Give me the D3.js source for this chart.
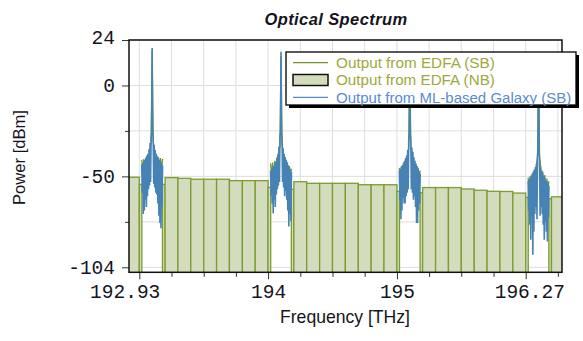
<!DOCTYPE html>
<html><head><meta charset="utf-8">
<script src="https://cdn.jsdelivr.net/npm/d3@7"></script>
<style>body{margin:0;background:#fff}svg{display:block}</style>
</head><body>
<svg id="c" width="583" height="341"></svg>
<script>
// ---------- data ----------
const xTickValues = [192.930,193.208,193.487,193.765,194.043,194.322,194.600,194.878,195.157,195.435,195.713,195.992,196.270,196.548];
const xTickLabels = ["192.93","","","","194","","","","195","","","","196.27",""];
const yTickValues = [24,-1.6,-27.2,-52.8,-78.4,-104];
const yTickLabels = ["24","0","","-50","","-104"];

// EDFA noise bins (NB): start/end frequency [THz], power [dBm]
const nbStart = [192.819,192.930,193.130,193.153,193.264,193.375,193.487,193.598,193.709,193.821,193.932,194.043,194.244,194.266,194.377,194.489,194.600,194.711,194.823,194.934,195.045,195.157,195.357,195.379,195.491,195.602,195.713,195.825,195.936,196.047,196.159,196.270,196.470,196.493];
const nbEnd   = [192.930,192.952,193.153,193.264,193.375,193.487,193.598,193.709,193.821,193.932,194.043,194.066,194.266,194.377,194.489,194.600,194.711,194.823,194.934,195.045,195.157,195.179,195.379,195.491,195.602,195.713,195.825,195.936,196.047,196.159,196.270,196.292,196.493,196.604];
const nbPower = [-53.3,-57.3,-57.3,-53.5,-53.9,-54.4,-54.4,-54.4,-55.2,-55.2,-55.2,-59.0,-60.1,-55.8,-56.7,-56.7,-56.7,-56.7,-57.5,-57.5,-57.5,-61.2,-62.0,-59.1,-59.1,-59.1,-59.9,-60.6,-61.2,-61.3,-62.2,-64.6,-65.4,-64.3];

// signal-band spectra around each channel
const channelCenters = [193.041,194.155,195.268,196.381];
const edfaStep = 0.009;     // THz between EDFA (SB) samples
const galaxyStep = 0.0045;  // THz between ML-based Galaxy (SB) samples
const edfaSB = [
  [-43.5,-50,-43,-55,-42,-48,-40.5,-50,-37,-34,18,-33,-37,-48,-40.5,-52,-42,-55,-42.5,-50,-43],
  [-45.5,-52,-45,-58,-44,-50,-42,-47,-38,-36,15,-35,-38,-48,-42,-52,-45,-56,-47,-53,-48.5],
  [-48,-55,-47,-60,-45,-52,-43,-50,-39,-37,14,-36,-40,-50,-44,-54,-46.5,-56,-48,-54,-49.5],
  [-53.5,-62,-52.5,-68,-51,-60,-49,-56,-46,-42,13,-42,-47,-58,-50,-62,-52,-64,-54,-60,-55.5]
];
const galaxySB = [
  [-46,-62,-45.5,-74,-44.5,-72,-43.5,-66,-42.5,-70,-41,-64,-40,-60,-37.5,-58,-34,-56,-31,-28,19.5,-27,-31.5,-57,-35,-59,-38,-62,-40,-63,-41.5,-68,-42.5,-75,-43.5,-79,-44.5,-82,-45.5,-70,-46.5],
  [-49.5,-64,-49,-68,-48,-73.5,-47,-66,-46,-70,-44.5,-63,-43,-60,-40,-58,-36,-56,-30,-27,17.4,-28,-32,-56,-37,-59,-40,-64,-42,-61,-43.5,-66,-45,-72,-46.5,-81,-48,-74,-49,-78,-50.5],
  [-49.5,-66,-48.5,-77,-47.5,-72,-46.5,-65,-45.5,-68,-44,-68,-42.5,-64,-41,-62,-38,-60,-32,-29,16,-29,-33,-60,-36.5,-62,-39,-66,-42,-64,-44,-70,-45.5,-79,-47,-79,-48.5,-72,-50,-68,-51.5],
  [-55.5,-72,-54.5,-80,-53.5,-88.5,-52.5,-75,-51.5,-97,-50,-84,-49,-74,-47.5,-70,-46,-77,-42,-37,15,-38,-44,-75,-47.5,-70,-49.5,-74,-51,-80,-52.5,-88.5,-53.5,-78,-55,-84,-56,-89.5,-57,-76,-58]
];
const legendLabels = ["Output from EDFA (SB)","Output from EDFA (NB)","Output from ML-based Galaxy (SB)"];

// ---------- layout / style ----------
const plot = {l:129, t:40, r:562, b:272.3};
const C = {grid:"#dedede", nbFill:"#d4dcbe", nbStroke:"#7c9c30", edfa:"#74962a", galaxy:"#4682b4",
           legOlive:"#a0a83c", legBlue:"#5b8bd0", ink:"#141420"};

const svg = d3.select("#c");
svg.append("rect").attr("width",583).attr("height",341).attr("fill","#fff");

const x = d3.scaleLinear().domain([192.93,196.27]).range([139.3,525.7]);
const y = d3.scaleLinear().domain([-104,24]).range([267.3,40]);

svg.append("clipPath").attr("id","clip").append("rect")
  .attr("x",plot.l).attr("y",plot.t).attr("width",plot.r-plot.l).attr("height",plot.b-plot.t);

// grid
const g = svg.append("g");
g.selectAll(".gv").data(xTickValues).join("line")
  .attr("x1",d=>x(d)).attr("x2",d=>x(d)).attr("y1",plot.t).attr("y2",plot.b)
  .attr("stroke",C.grid).attr("stroke-width",1);
g.selectAll(".gh").data(yTickValues).join("line")
  .attr("y1",d=>y(d)).attr("y2",d=>y(d)).attr("x1",plot.l).attr("x2",plot.r)
  .attr("stroke",C.grid).attr("stroke-width",1);

const pg = svg.append("g").attr("clip-path","url(#clip)");

// NB bars
const bins = nbStart.map((s,i)=>({s, e:nbEnd[i], p:nbPower[i]}));
pg.selectAll(".bar").data(bins).join("rect")
  .attr("x",d=>x(d.s)).attr("width",d=>x(d.e)-x(d.s))
  .attr("y",d=>y(d.p)).attr("height",d=>plot.b+3-y(d.p))
  .attr("fill",C.nbFill).attr("stroke",C.nbStroke).attr("stroke-width",1.3);

// SB spectra
const line = d3.line().x(d=>x(d[0])).y(d=>y(d[1]));
edfaSB.forEach((vals,c)=>{
  const pts = vals.map((v,i)=>[channelCenters[c]+(i-(vals.length-1)/2)*edfaStep, v]);
  pg.append("path").attr("d",line(pts)).attr("fill","none").attr("stroke",C.edfa).attr("stroke-width",1.3);
});
galaxySB.forEach((vals,c)=>{
  const pts = vals.map((v,i)=>[channelCenters[c]+(i-(vals.length-1)/2)*galaxyStep, v]);
  pg.append("path").attr("d",line(pts)).attr("fill","none").attr("stroke",C.galaxy).attr("stroke-width",1.6);
});

// axes
const tickFont = "'Liberation Mono','Courier New',monospace";
const ya = svg.append("g").attr("transform",`translate(${plot.l},0)`)
  .call(d3.axisLeft(y).tickValues(yTickValues).tickFormat((d,i)=>yTickLabels[i]).tickSize(7).tickSizeOuter(0).tickPadding(7));
ya.select(".domain").remove();
ya.selectAll(".tick line").attr("stroke","#333").attr("x2",(d,i)=>yTickLabels[i]?-7:-4);
ya.selectAll(".tick text").attr("font-family",tickFont).attr("font-size",19.5).attr("fill",C.ink)
  .attr("y",(d,i)=>i===0?-3:0);

const xa = svg.append("g").attr("transform",`translate(0,${plot.b})`)
  .call(d3.axisBottom(x).tickValues(xTickValues).tickFormat((d,i)=>xTickLabels[i]).tickSize(7).tickSizeOuter(0).tickPadding(5));
xa.select(".domain").remove();
xa.selectAll(".tick line").attr("stroke","#333").attr("y2",(d,i)=>xTickLabels[i]?7:4.5);
xa.selectAll(".tick text").attr("font-family",tickFont).attr("font-size",19.5).attr("fill",C.ink)
  .attr("dx",(d,i)=>i===0?-14.6:(i===12?3.6:0));

// frame
svg.append("rect").attr("x",plot.l).attr("y",plot.t).attr("width",plot.r-plot.l).attr("height",plot.b-plot.t)
  .attr("fill","none").attr("stroke","#111").attr("stroke-width",1.5);

function fit(sel,w){const L=sel.node().getComputedTextLength();const fs=parseFloat(sel.attr("font-size"));sel.attr("font-size",fs*w/L);return sel;}
const sans = "'Liberation Sans',Arial,sans-serif";

// titles
svg.append("text").attr("x",336).attr("y",25).attr("text-anchor","middle")
  .attr("font-family",sans).attr("font-weight","bold").attr("font-style","italic").attr("font-size",16.5)
  .attr("letter-spacing",0.4).attr("fill",C.ink).text("Optical Spectrum");
fit(svg.append("text").attr("transform","translate(25,157.5) rotate(-90)").attr("text-anchor","middle")
  .attr("font-family",sans).attr("font-size",14).attr("fill",C.ink).text("Power [dBm]"),95);
fit(svg.append("text").attr("x",345).attr("y",323).attr("text-anchor","middle")
  .attr("font-family",sans).attr("font-size",15).attr("fill",C.ink).text("Frequency [THz]"),130);

// legend
const lg = svg.append("g");
lg.append("rect").attr("x",289).attr("y",55).attr("width",290).attr("height",53).attr("fill","#000");
lg.append("rect").attr("x",286).attr("y",52).attr("width",290).attr("height",53).attr("fill","#fff").attr("stroke","#000").attr("stroke-width",1.3);
const rowY = [62.7,80,97.3];
lg.append("line").attr("x1",293).attr("x2",328).attr("y1",rowY[0]).attr("y2",rowY[0]).attr("stroke",C.edfa).attr("stroke-width",1.3);
lg.append("rect").attr("x",293).attr("y",rowY[1]-5.5).attr("width",35).attr("height",11).attr("fill",C.nbFill).attr("stroke","#111").attr("stroke-width",1.5);
lg.append("line").attr("x1",293).attr("x2",328).attr("y1",rowY[2]).attr("y2",rowY[2]).attr("stroke",C.legBlue).attr("stroke-width",1.3);
const legW = [159,159,235.7];
const legCol = [C.legOlive,C.legOlive,C.legBlue];
legendLabels.forEach((t,i)=>{
  fit(lg.append("text").attr("x",336).attr("y",rowY[i]).attr("dy","0.36em")
    .attr("font-family",sans).attr("font-size",12).attr("fill",legCol[i]).text(t),legW[i]);
});
</script>
</body></html>
